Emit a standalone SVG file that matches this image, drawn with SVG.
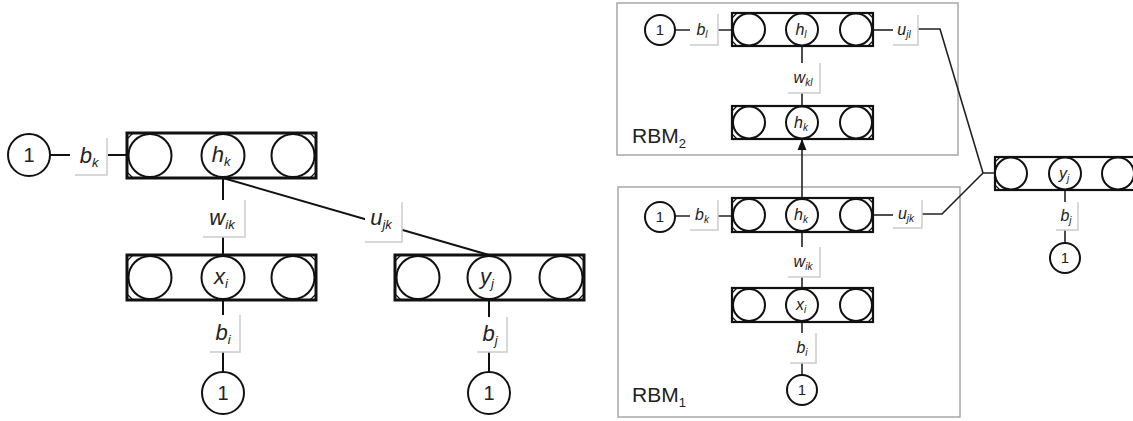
<svg xmlns="http://www.w3.org/2000/svg" width="1133" height="421" viewBox="0 0 1133 421">
<defs>
<style>
.lay{fill:#fff;stroke:#111;stroke-width:3}
.layS{fill:#fff;stroke:#111;stroke-width:2.2}
.c{fill:#fff;stroke:#111;stroke-width:2}
.cor{fill:#fff;stroke:#111;stroke-width:1.2}
.ln{fill:none;stroke:#111;stroke-width:2}
.lnS{fill:none;stroke:#222;stroke-width:1.6}
.box{fill:#fff;stroke:none}
.sh{fill:none;stroke:#ccc;stroke-width:1.5}
.grp{fill:none;stroke:#a8a8a8;stroke-width:1.5}
.t{font-family:"Liberation Sans",Arial,sans-serif;fill:#222;text-anchor:middle}
.m{font-style:italic}
.rbm{font-family:"Liberation Sans",Arial,sans-serif;fill:#222;font-size:21px}
</style>
<marker id="ah" viewBox="0 0 10 10" refX="9" refY="5" markerWidth="7" markerHeight="7" orient="auto">
<path d="M0,1 L10,5 L0,9 z" fill="#111"/>
</marker>
</defs>
<rect width="1133" height="421" fill="#fff"/>

<!-- group boxes -->
<g id="rbm2-box"><rect class="grp" x="617" y="3" width="341" height="152"/><text class="rbm" x="632" y="143">RBM<tspan font-size="13" dy="5">2</tspan></text></g>
<g id="rbm1-box"><rect class="grp" x="618" y="187" width="342" height="230"/><text class="rbm" x="632" y="402">RBM<tspan font-size="13" dy="5">1</tspan></text></g>

<!-- connectors -->
<g id="connectors">
<!-- left -->
<line class="ln" x1="50" y1="155" x2="70" y2="155"/>
<line class="ln" x1="108" y1="155" x2="127" y2="155"/>
<line class="ln" x1="223" y1="178" x2="223" y2="255"/>
<line class="ln" x1="223" y1="300" x2="223" y2="372"/>
<line class="ln" x1="223" y1="178" x2="489" y2="255"/>
<line class="ln" x1="489" y1="300" x2="489" y2="372"/>
<!-- right -->
<line class="lnS" x1="675" y1="30" x2="732" y2="30"/>
<line class="lnS" x1="873" y1="30" x2="893" y2="30"/>
<polyline class="lnS" points="918,29 940,29 983,173 995,173"/>
<line class="lnS" x1="802" y1="46" x2="802" y2="106"/>
<line class="lnS" x1="802" y1="198" x2="802" y2="140" marker-end="url(#ah)"/>
<line class="lnS" x1="675" y1="216" x2="732" y2="216"/>
<line class="lnS" x1="873" y1="215" x2="893" y2="215"/>
<polyline class="lnS" points="922,214 942,214 983,173"/>
<line class="lnS" x1="802" y1="232" x2="802" y2="288"/>
<line class="lnS" x1="802" y1="322" x2="802" y2="375"/>
<line class="lnS" x1="1065" y1="190" x2="1065" y2="243"/>
</g>

<!-- LEFT DIAGRAM -->
<g id="one-hk"><circle class="c" cx="29" cy="155" r="21"/><text class="t" x="29" y="162" font-size="20">1</text></g>
<g id="lbl-bk"><rect class="box" x="75" y="138" width="32" height="37"/><polyline class="sh" points="107,138 107,175 75,175"/><text class="t m" x="89" y="163" font-size="22">b<tspan font-size="13" dy="4">k</tspan></text></g>
<g id="layer-hk">
<rect class="lay" x="127" y="133" width="189" height="45"/>
<path class="cor" d="M127,139 L133,133 M310,133 L316,139 M127,172 L133,178 M310,178 L316,172"/>
<circle class="c" cx="150" cy="155.5" r="21.5"/><circle class="c" cx="223" cy="155.5" r="21.5"/><circle class="c" cx="293" cy="155.5" r="21.5"/>
<text class="t m" x="221" y="162" font-size="22">h<tspan font-size="13" dy="4">k</tspan></text>
</g>
<g id="lbl-wik"><rect class="box" x="203" y="200" width="42" height="37"/><polyline class="sh" points="245,200 245,237 203,237"/><text class="t m" x="222" y="225" font-size="22">w<tspan font-size="13" dy="4">ik</tspan></text></g>
<g id="layer-xi">
<rect class="lay" x="127" y="255" width="189" height="45"/>
<path class="cor" d="M127,261 L133,255 M310,255 L316,261 M127,294 L133,300 M310,300 L316,294"/>
<circle class="c" cx="150" cy="277.5" r="21.5"/><circle class="c" cx="223" cy="277.5" r="21.5"/><circle class="c" cx="293" cy="277.5" r="21.5"/>
<text class="t m" x="221" y="284" font-size="22">x<tspan font-size="13" dy="4">i</tspan></text>
</g>
<g id="lbl-bi"><rect class="box" x="210" y="315" width="30" height="37"/><polyline class="sh" points="240,315 240,352 210,352"/><text class="t m" x="223" y="340" font-size="22">b<tspan font-size="13" dy="4">i</tspan></text></g>
<g id="one-xi"><circle class="c" cx="223" cy="393" r="21"/><text class="t" x="223" y="400" font-size="20">1</text></g>

<g id="lbl-ujk"><rect class="box" x="365" y="202" width="37" height="40"/><polyline class="sh" points="402,202 402,242 365,242"/><text class="t m" x="381" y="225" font-size="22">u<tspan font-size="13" dy="4">jk</tspan></text></g>
<g id="layer-yj">
<rect class="lay" x="395" y="255" width="189" height="45"/>
<path class="cor" d="M395,261 L401,255 M578,255 L584,261 M395,294 L401,300 M578,300 L584,294"/>
<circle class="c" cx="418" cy="277.5" r="21.5"/><circle class="c" cx="489" cy="277.5" r="21.5"/><circle class="c" cx="561" cy="277.5" r="21.5"/>
<text class="t m" x="487" y="284" font-size="22">y<tspan font-size="13" dy="4">j</tspan></text>
</g>
<g id="lbl-bj"><rect class="box" x="477" y="317" width="30" height="35"/><polyline class="sh" points="507,317 507,352 477,352"/><text class="t m" x="490" y="341" font-size="22">b<tspan font-size="13" dy="4">j</tspan></text></g>
<g id="one-yj"><circle class="c" cx="489" cy="393" r="21"/><text class="t" x="489" y="400" font-size="20">1</text></g>

<!-- RIGHT DIAGRAM: RBM2 -->
<g id="r-one-hl"><circle class="c" cx="660" cy="30" r="15"/><text class="t" x="660" y="35" font-size="15">1</text></g>
<g id="r-lbl-bl"><rect class="box" x="690" y="14" width="28" height="31"/><polyline class="sh" points="718,14 718,45 690,45"/><text class="t m" x="702" y="35" font-size="16">b<tspan font-size="10" dy="3">l</tspan></text></g>
<g id="r-layer-hl">
<rect class="layS" x="732" y="13" width="141" height="33"/>
<path class="cor" d="M732,18 L737,13 M868,13 L873,18 M732,41 L737,46 M868,46 L873,41"/>
<circle class="c" cx="749" cy="29.5" r="16"/><circle class="c" cx="802" cy="29.5" r="16"/><circle class="c" cx="856" cy="29.5" r="16"/>
<text class="t m" x="801" y="35" font-size="16">h<tspan font-size="10" dy="3">l</tspan></text>
</g>
<g id="r-lbl-ujl"><rect class="box" x="893" y="15" width="25" height="30"/><polyline class="sh" points="918,15 918,45 893,45"/><text class="t m" x="904" y="35" font-size="16">u<tspan font-size="10" dy="3">jl</tspan></text></g>
<g id="r-lbl-wkl"><rect class="box" x="788" y="63" width="32" height="30"/><polyline class="sh" points="820,63 820,93 788,93"/><text class="t m" x="803" y="83" font-size="16">w<tspan font-size="10" dy="3">kl</tspan></text></g>
<g id="r-layer-hk2">
<rect class="layS" x="732" y="106" width="141" height="33"/>
<path class="cor" d="M732,111 L737,106 M868,106 L873,111 M732,134 L737,139 M868,139 L873,134"/>
<circle class="c" cx="749" cy="122.5" r="16"/><circle class="c" cx="802" cy="122.5" r="16"/><circle class="c" cx="856" cy="122.5" r="16"/>
<text class="t m" x="801" y="128" font-size="16">h<tspan font-size="10" dy="3">k</tspan></text>
</g>

<!-- RIGHT DIAGRAM: RBM1 -->
<g id="r-one-hk"><circle class="c" cx="660" cy="217" r="15"/><text class="t" x="660" y="222" font-size="15">1</text></g>
<g id="r-lbl-bk"><rect class="box" x="690" y="200" width="28" height="30"/><polyline class="sh" points="718,200 718,230 690,230"/><text class="t m" x="702" y="220" font-size="16">b<tspan font-size="10" dy="3">k</tspan></text></g>
<g id="r-layer-hk1">
<rect class="layS" x="732" y="198" width="141" height="34"/>
<path class="cor" d="M732,203 L737,198 M868,198 L873,203 M732,227 L737,232 M868,232 L873,227"/>
<circle class="c" cx="749" cy="215" r="16"/><circle class="c" cx="802" cy="215" r="16"/><circle class="c" cx="856" cy="215" r="16"/>
<text class="t m" x="801" y="220" font-size="16">h<tspan font-size="10" dy="3">k</tspan></text>
</g>
<g id="r-lbl-ujk"><rect class="box" x="893" y="200" width="29" height="28"/><polyline class="sh" points="922,200 922,228 893,228"/><text class="t m" x="906" y="219" font-size="16">u<tspan font-size="10" dy="3">jk</tspan></text></g>
<g id="r-lbl-wik"><rect class="box" x="788" y="247" width="32" height="30"/><polyline class="sh" points="820,247 820,277 788,277"/><text class="t m" x="803" y="267" font-size="16">w<tspan font-size="10" dy="3">ik</tspan></text></g>
<g id="r-layer-xi">
<rect class="layS" x="732" y="288" width="141" height="34"/>
<path class="cor" d="M732,293 L737,288 M868,288 L873,293 M732,317 L737,322 M868,322 L873,317"/>
<circle class="c" cx="749" cy="305" r="16"/><circle class="c" cx="802" cy="305" r="16"/><circle class="c" cx="856" cy="305" r="16"/>
<text class="t m" x="801" y="310" font-size="16">x<tspan font-size="10" dy="3">i</tspan></text>
</g>
<g id="r-lbl-bi"><rect class="box" x="790" y="333" width="26" height="30"/><polyline class="sh" points="816,333 816,363 790,363"/><text class="t m" x="802" y="353" font-size="16">b<tspan font-size="10" dy="3">i</tspan></text></g>
<g id="r-one-xi"><circle class="c" cx="802" cy="390" r="15"/><text class="t" x="802" y="395" font-size="15">1</text></g>

<!-- RIGHT DIAGRAM: output -->
<g id="r-layer-yj">
<rect class="layS" x="995" y="157" width="150" height="33"/>
<path class="cor" d="M995,162 L1000,157 M995,185 L1000,190"/>
<circle class="c" cx="1011" cy="173.5" r="16"/><circle class="c" cx="1065" cy="173.5" r="16"/><circle class="c" cx="1118" cy="173.5" r="16"/>
<text class="t m" x="1064" y="179" font-size="16">y<tspan font-size="10" dy="3">j</tspan></text>
</g>
<g id="r-lbl-bj"><rect class="box" x="1056" y="202" width="22" height="28"/><polyline class="sh" points="1078,202 1078,230 1056,230"/><text class="t m" x="1066" y="221" font-size="16">b<tspan font-size="10" dy="3">j</tspan></text></g>
<g id="r-one-yj"><circle class="c" cx="1065" cy="258" r="15"/><text class="t" x="1065" y="263" font-size="15">1</text></g>
</svg>
